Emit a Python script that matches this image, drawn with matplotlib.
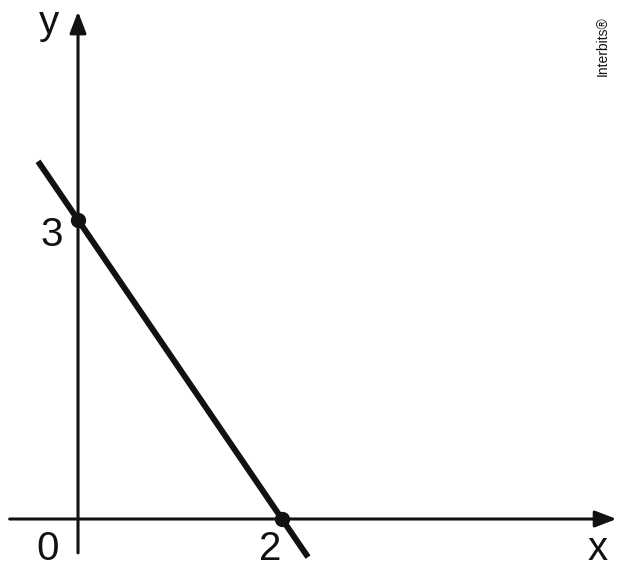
import matplotlib
matplotlib.use("Agg")
import matplotlib.pyplot as plt
import numpy as np

# Data
line_x = [-0.392, 2.255]
intercept_y = 3
root_x = 2
points_x = [0, 2]
points_y = [3, 0]
tick_labels = {"0": (0, 0), "2": (2, 0), "3": (0, 3)}

plt.rcParams['font.family'] = ['Liberation Sans', 'DejaVu Sans']

fig = plt.figure(figsize=(6.25, 5.71), dpi=100)
ax = fig.add_axes([0, 0, 1, 1])
ax.set_xlim(-0.765, 5.363)
ax.set_ylim(-0.5216, 5.206)
ax.axis('off')

# axes with arrows
ax.annotate('', xy=(5.28, 0), xytext=(-0.67, 0),
            arrowprops=dict(arrowstyle='-|>,head_length=1.3,head_width=0.5', lw=2.2, color='#111111',
                            shrinkA=0, shrinkB=0))
ax.annotate('', xy=(0, 5.09), xytext=(0, -0.34),
            arrowprops=dict(arrowstyle='-|>,head_length=1.3,head_width=0.5', lw=2.2, color='#111111',
                            shrinkA=0, shrinkB=0))

# line y = 3 - 1.5x
lx = np.array(line_x)
ly = intercept_y - intercept_y / root_x * lx
ax.plot(lx, ly, color='#111111', lw=4.3, solid_capstyle='butt')
ax.plot(points_x, points_y, 'o', color='#111111', ms=10)

fs = 29
ax.text(-0.29, 4.98, 'y', fontsize=fs, ha='center', va='center', color='#111111')
ax.text(-0.255, 2.85, '3', fontsize=fs, ha='center', va='center', color='#111111')
ax.text(-0.30, -0.30, '0', fontsize=fs, ha='center', va='center', color='#111111')
ax.text(1.88, -0.30, '2', fontsize=fs, ha='center', va='center', color='#111111')
ax.text(5.09, -0.30, 'x', fontsize=fs, ha='center', va='center', color='#111111')

fig.text(603/625, 1 - 46/571, 'Interbits®', rotation=90, fontsize=10, ha='center', va='center', color='#111111')

fig.savefig('out.png', dpi=100, facecolor='white')
